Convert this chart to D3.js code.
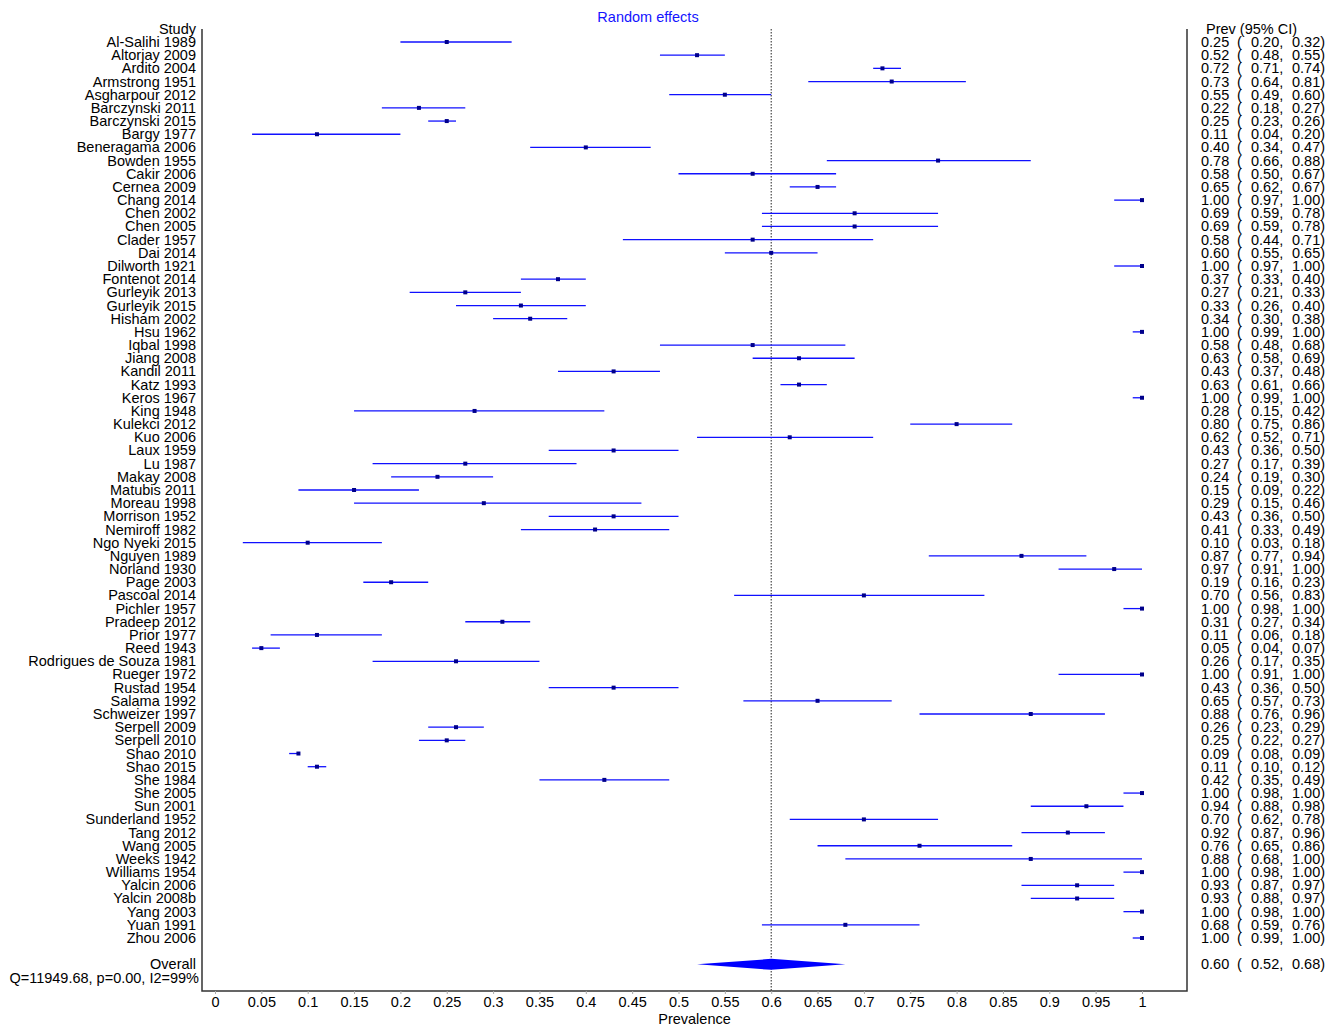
<!DOCTYPE html>
<html>
<head>
<meta charset="utf-8">
<script src="https://cdn.jsdelivr.net/npm/d3@7"></script>
<style>
  body { margin: 0; background: #fff; }
  text { font-family: "Liberation Sans", Arial, sans-serif; font-size: 14.5px; }
</style>
</head>
<body>
<svg id="chart" width="1338" height="1028"></svg>
<script>
var studies = ['Al-Salihi 1989', 'Altorjay 2009', 'Ardito 2004', 'Armstrong 1951', 'Asgharpour 2012',
    'Barczynski 2011', 'Barczynski 2015', 'Bargy 1977', 'Beneragama 2006', 'Bowden 1955',
    'Cakir 2006', 'Cernea 2009', 'Chang 2014', 'Chen 2002', 'Chen 2005', 'Clader 1957', 'Dai 2014',
    'Dilworth 1921', 'Fontenot 2014', 'Gurleyik 2013', 'Gurleyik 2015', 'Hisham 2002', 'Hsu 1962',
    'Iqbal 1998', 'Jiang 2008', 'Kandil 2011', 'Katz 1993', 'Keros 1967', 'King 1948', 'Kulekci 2012',
    'Kuo 2006', 'Laux 1959', 'Lu 1987', 'Makay 2008', 'Matubis 2011', 'Moreau 1998', 'Morrison 1952',
    'Nemiroff 1982', 'Ngo Nyeki 2015', 'Nguyen 1989', 'Norland 1930', 'Page 2003', 'Pascoal 2014',
    'Pichler 1957', 'Pradeep 2012', 'Prior 1977', 'Reed 1943', 'Rodrigues de Souza 1981',
    'Rueger 1972', 'Rustad 1954', 'Salama 1992', 'Schweizer 1997', 'Serpell 2009', 'Serpell 2010',
    'Shao 2010', 'Shao 2015', 'She 1984', 'She 2005', 'Sun 2001', 'Sunderland 1952', 'Tang 2012',
    'Wang 2005', 'Weeks 1942', 'Williams 1954', 'Yalcin 2006', 'Yalcin 2008b', 'Yang 2003',
    'Yuan 1991', 'Zhou 2006'];

var prev = [0.25, 0.52, 0.72, 0.73, 0.55, 0.22, 0.25, 0.11, 0.40, 0.78,
    0.58, 0.65, 1.00, 0.69, 0.69, 0.58, 0.60, 1.00, 0.37, 0.27,
    0.33, 0.34, 1.00, 0.58, 0.63, 0.43, 0.63, 1.00, 0.28, 0.80,
    0.62, 0.43, 0.27, 0.24, 0.15, 0.29, 0.43, 0.41, 0.10, 0.87,
    0.97, 0.19, 0.70, 1.00, 0.31, 0.11, 0.05, 0.26, 1.00, 0.43,
    0.65, 0.88, 0.26, 0.25, 0.09, 0.11, 0.42, 1.00, 0.94, 0.70,
    0.92, 0.76, 0.88, 1.00, 0.93, 0.93, 1.00, 0.68, 1.00];

var ciLow = [0.20, 0.48, 0.71, 0.64, 0.49, 0.18, 0.23, 0.04, 0.34, 0.66,
    0.50, 0.62, 0.97, 0.59, 0.59, 0.44, 0.55, 0.97, 0.33, 0.21,
    0.26, 0.30, 0.99, 0.48, 0.58, 0.37, 0.61, 0.99, 0.15, 0.75,
    0.52, 0.36, 0.17, 0.19, 0.09, 0.15, 0.36, 0.33, 0.03, 0.77,
    0.91, 0.16, 0.56, 0.98, 0.27, 0.06, 0.04, 0.17, 0.91, 0.36,
    0.57, 0.76, 0.23, 0.22, 0.08, 0.10, 0.35, 0.98, 0.88, 0.62,
    0.87, 0.65, 0.68, 0.98, 0.87, 0.88, 0.98, 0.59, 0.99];

var ciHigh = [0.32, 0.55, 0.74, 0.81, 0.60, 0.27, 0.26, 0.20, 0.47, 0.88,
    0.67, 0.67, 1.00, 0.78, 0.78, 0.71, 0.65, 1.00, 0.40, 0.33,
    0.40, 0.38, 1.00, 0.68, 0.69, 0.48, 0.66, 1.00, 0.42, 0.86,
    0.71, 0.50, 0.39, 0.30, 0.22, 0.46, 0.50, 0.49, 0.18, 0.94,
    1.00, 0.23, 0.83, 1.00, 0.34, 0.18, 0.07, 0.35, 1.00, 0.50,
    0.73, 0.96, 0.29, 0.27, 0.09, 0.12, 0.49, 1.00, 0.98, 0.78,
    0.96, 0.86, 1.00, 1.00, 0.97, 0.97, 1.00, 0.76, 1.00];

var overall = [0.60, 0.52, 0.68];
var heterogeneity = 'Q=11949.68, p=0.00, I2=99%';

var xTicks = [0, 0.05, 0.1, 0.15, 0.2, 0.25, 0.3, 0.35, 0.4, 0.45, 0.5,
    0.55, 0.6, 0.65, 0.7, 0.75, 0.8, 0.85, 0.9, 0.95, 1];

var FRAME = { LEFT: 202, RIGHT: 1187, TOP: 29, BOTTOM: 991 };

var svg = d3.select('#chart');

var x = d3.scaleLinear().domain([0, 1]).range([215, 1142]);
var y = d3.scaleLinear().domain([0, studies.length - 1]).range([42, 938]);
var fmt = d3.format('.2f');

var rows = studies.map(function (s, i) {
    return { study: s, est: prev[i], lo: ciLow[i], hi: ciHigh[i], i: i };
});

// frame
svg.append('path')
    .attr('d', 'M' + FRAME.LEFT + ',' + FRAME.TOP + 'V' + FRAME.BOTTOM + 'H' + FRAME.RIGHT + 'V' + FRAME.TOP)
    .attr('fill', 'none')
    .attr('stroke', '#333')
    .attr('stroke-width', 1.5);

// x axis
var axis = svg.append('g')
    .attr('transform', 'translate(0,' + FRAME.BOTTOM + ')')
    .call(d3.axisBottom(x)
        .tickValues(xTicks)
        .tickSize(3)
        .tickFormat(function (d) { return String(+d.toFixed(2)); }));
axis.select('.domain').remove();
axis.selectAll('.tick line').attr('stroke', '#aaa');
axis.selectAll('.tick text')
    .attr('y', 6)
    .attr('dy', '0.71em')
    .style('font-size', '14.5px')
    .style('font-family', '"Liberation Sans", Arial, sans-serif')
    .attr('fill', '#000');

svg.append('text')
    .attr('x', (FRAME.LEFT + FRAME.RIGHT) / 2)
    .attr('y', 1024)
    .attr('text-anchor', 'middle')
    .text('Prevalence');

// reference line at overall estimate
svg.append('line')
    .attr('x1', x(overall[0])).attr('x2', x(overall[0]))
    .attr('y1', FRAME.TOP).attr('y2', FRAME.BOTTOM)
    .attr('stroke', '#222')
    .attr('stroke-width', 1)
    .attr('stroke-dasharray', '1.5,1.5');

svg.append('text')
    .attr('x', 648)
    .attr('y', 22)
    .attr('text-anchor', 'middle')
    .attr('fill', '#1414ff')
    .text('Random effects');

// headers
svg.append('text')
    .attr('x', 196).attr('y', y(-1) + 5)
    .attr('text-anchor', 'end')
    .text('Study');
svg.append('text')
    .attr('x', 1206).attr('y', y(-1) + 5)
    .text('Prev (95% CI)');

// study rows
var row = svg.selectAll('g.row').data(rows).enter()
    .append('g')
    .attr('class', 'row')
    .attr('transform', function (d) { return 'translate(0,' + y(d.i) + ')'; });

row.append('text')
    .attr('x', 196).attr('y', 5)
    .attr('text-anchor', 'end')
    .text(function (d) { return d.study; });

row.append('line')
    .attr('x1', function (d) { return x(d.lo); })
    .attr('x2', function (d) { return x(d.hi); })
    .attr('stroke', '#1010ff')
    .attr('stroke-width', 1.3);

row.append('rect')
    .attr('x', function (d) { return x(d.est) - 2; })
    .attr('y', -2)
    .attr('width', 4).attr('height', 4)
    .attr('fill', '#00008b');

function ciText(g, est, lo, hi) {
    g.append('text').attr('x', 1201).attr('y', 5).text(fmt(est));
    g.append('text').attr('x', 1237).attr('y', 5).text('(');
    g.append('text').attr('x', 1251).attr('y', 5).text(fmt(lo) + ',');
    g.append('text').attr('x', 1292).attr('y', 5).text(fmt(hi) + ')');
}

row.each(function (d) {
    ciText(d3.select(this), d.est, d.lo, d.hi);
});

// overall
var ov = svg.append('g')
    .attr('transform', 'translate(0,' + y(studies.length + 1) + ')');
ov.append('text')
    .attr('x', 196).attr('y', 5)
    .attr('text-anchor', 'end')
    .text('Overall');
ov.append('path')
    .attr('d', 'M' + x(overall[1]) + ',0L' + x(overall[0]) + ',-5.5L' + x(overall[2]) + ',0L' + x(overall[0]) + ',5.5Z')
    .attr('fill', '#0000ff');
ciText(ov, overall[0], overall[1], overall[2]);

svg.append('text')
    .attr('x', 199).attr('y', y(studies.length + 2) + 5)
    .attr('text-anchor', 'end')
    .text(heterogeneity);
</script>
</body>
</html>
